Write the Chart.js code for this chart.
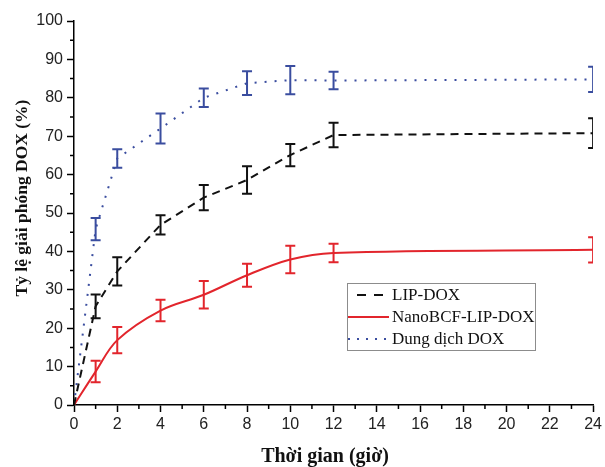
<!DOCTYPE html>
<html>
<head>
<meta charset="utf-8">
<script src="https://cdn.jsdelivr.net/npm/chart.js@4"></script>
<style>
  html, body { margin: 0; padding: 0; background: #fff; }
  #wrap { width: 605px; height: 467px; }
</style>
</head>
<body>
<div id="wrap"><canvas id="chartRelease"></canvas></div>
<script>
// Dữ liệu giải phóng DOX theo thời gian
const hours = [0, 1, 2, 4, 6, 8, 10, 12, 24];
const xTicks = [0, 2, 4, 6, 8, 10, 12, 14, 16, 18, 20, 22, 24];
const yTicks = [0, 10, 20, 30, 40, 50, 60, 70, 80, 90, 100];

const lipDox = [0, 25.7, 34.8, 46.9, 54.0, 58.6, 65.1, 70.3, 70.8];
const lipDoxErr = [0, 3.1, 3.7, 2.5, 3.3, 3.6, 2.9, 3.2, 3.9];
const nanoBcf = [0, 8.7, 16.9, 24.6, 28.7, 33.8, 37.9, 39.6, 40.4];
const nanoBcfErr = [0, 2.8, 3.4, 2.8, 3.6, 3.0, 3.6, 2.4, 3.3];
const dungDich = [0, 45.8, 64.2, 72.0, 80.0, 83.8, 84.6, 84.5, 84.8];
const dungDichErr = [0, 2.9, 2.4, 3.9, 2.4, 3.1, 3.7, 2.3, 3.3];

const xTitle = 'Thời gian (giờ)';
const yTitle = 'Tỷ lệ giải phóng DOX (%)';

const RED = '#e2252c', BLUE = '#3a4d9f', BLACK = '#111';

function pts(vals) { return hours.map((h, i) => ({ x: h, y: vals[i] })); }

// error bars, clipped to the plot area
const errorBars = {
  id: 'errorBars',
  afterDatasetsDraw(chart) {
    const { ctx, chartArea, scales: { x, y } } = chart;
    ctx.save();
    ctx.beginPath();
    ctx.rect(chartArea.left, chartArea.top, chartArea.width, chartArea.height);
    ctx.clip();
    chart.data.datasets.forEach(ds => {
      ctx.strokeStyle = ds.borderColor;
      ctx.lineWidth = 2;
      ctx.setLineDash([]);
      ds.data.forEach((p, i) => {
        const e = ds.errors[i];
        if (!e) return;
        const px = x.getPixelForValue(p.x);
        const t = y.getPixelForValue(p.y + e), b = y.getPixelForValue(p.y - e);
        ctx.beginPath();
        ctx.moveTo(px, t); ctx.lineTo(px, b);
        ctx.moveTo(px - 5, t); ctx.lineTo(px + 5, t);
        ctx.moveTo(px - 5, b); ctx.lineTo(px + 5, b);
        ctx.stroke();
      });
    });
    ctx.restore();
  }
};

// minor ticks + axis titles + legend box
const decor = {
  id: 'decor',
  afterDraw(chart) {
    const { ctx, chartArea, scales: { x, y } } = chart;
    ctx.save();
    ctx.strokeStyle = '#000';
    ctx.lineWidth = 1.5;
    ctx.beginPath();
    for (let v = 5; v < 100; v += 10) {
      const py = y.getPixelForValue(v);
      ctx.moveTo(chartArea.left - 4, py); ctx.lineTo(chartArea.left, py);
    }
    for (let v = 1; v < 24; v += 2) {
      const px = x.getPixelForValue(v);
      ctx.moveTo(px, chartArea.bottom); ctx.lineTo(px, chartArea.bottom + 4);
    }
    ctx.stroke();

    ctx.fillStyle = '#111';
    ctx.textAlign = 'center';
    ctx.textBaseline = 'middle';
    ctx.font = 'bold 20px "Liberation Serif"';
    ctx.fillText(xTitle, 325, 457);
    ctx.font = 'bold 17.5px "Liberation Serif"';
    ctx.translate(22, 198);
    ctx.rotate(-Math.PI / 2);
    ctx.fillText(yTitle, 0, 0);
    ctx.restore();

    // legend
    ctx.save();
    ctx.fillStyle = '#fff';
    ctx.fillRect(347, 283, 188, 67);
    ctx.strokeStyle = '#8c8c8c';
    ctx.lineWidth = 1;
    ctx.strokeRect(347.5, 283.5, 188, 67);
    ctx.font = '17px "Liberation Serif"';
    ctx.textAlign = 'left';
    ctx.textBaseline = 'middle';
    chart.data.datasets.forEach((ds, i) => {
      const ly = 295 + i * 22;
      ctx.strokeStyle = ds.borderColor;
      ctx.lineWidth = 2;
      ctx.setLineDash(ds.legendDash);
      ctx.beginPath();
      ctx.moveTo(i === 0 ? 357 : 348, ly); ctx.lineTo(389, ly);
      ctx.stroke();
      ctx.fillStyle = '#111';
      ctx.fillText(ds.label, 392, ly + 1);
    });
    ctx.restore();
  }
};

const ctx = document.getElementById('chartRelease');
new Chart(ctx, {
  type: 'line',
  data: {
    datasets: [
      { label: 'LIP-DOX', data: pts(lipDox), errors: lipDoxErr, borderColor: BLACK, borderWidth: 2,
        borderDash: [8, 6], legendDash: [9, 8], tension: 0, pointRadius: 0 },
      { label: 'NanoBCF-LIP-DOX', data: pts(nanoBcf), errors: nanoBcfErr, borderColor: RED, borderWidth: 2,
        borderDash: [], legendDash: [], tension: 0.35, pointRadius: 0 },
      { label: 'Dung dịch DOX', data: pts(dungDich), errors: dungDichErr, borderColor: BLUE, borderWidth: 2,
        borderDash: [2, 8], legendDash: [2, 7], tension: 0, pointRadius: 0 }
    ]
  },
  options: {
    responsive: true,
    maintainAspectRatio: false,
    animation: false,
    layout: { padding: { top: 21, right: 9, bottom: 0, left: 0 } },
    plugins: { legend: { display: false }, tooltip: { enabled: false } },
    scales: {
      x: {
        type: 'linear', min: 0, max: 24,
        afterBuildTicks: s => { s.ticks = xTicks.map(v => ({ value: v })); },
        afterFit: s => { s.height = 62; },
        grid: { drawOnChartArea: false, tickLength: 7, tickColor: '#000', tickWidth: 1.5 },
        border: { color: '#000', width: 1.5 },
        ticks: { color: '#222', font: { family: 'Liberation Sans', size: 16 }, padding: 3, maxRotation: 0 }
      },
      y: {
        min: 0, max: 100,
        afterBuildTicks: s => { s.ticks = yTicks.map(v => ({ value: v })); },
        afterFit: s => { s.width = 74; },
        grid: { drawOnChartArea: false, tickLength: 7, tickColor: '#000', tickWidth: 1.5 },
        border: { color: '#000', width: 1.5 },
        ticks: { color: '#222', font: { family: 'Liberation Sans', size: 16 }, padding: 4 }
      }
    }
  },
  plugins: [errorBars, decor]
});
</script>
</body>
</html>
